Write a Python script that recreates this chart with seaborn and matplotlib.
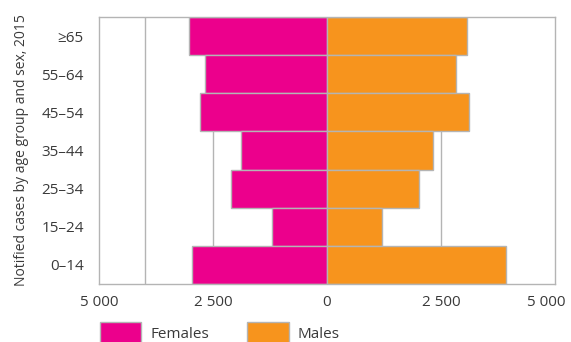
import pandas as pd
import matplotlib.pyplot as plt
import seaborn as sns
from matplotlib.patches import Patch
from matplotlib.transforms import ScaledTranslation

# Notified cases by age group and sex, 2015
age_groups = ['≥65', '55–64', '45–54', '35–44', '25–34', '15–24', '0–14']
females = [3025, 2675, 2790, 1890, 2100, 1200, 2950]
males = [3070, 2820, 3120, 2330, 2015, 1210, 3935]
x_ticks = [-5000, -2500, 0, 2500, 5000]
x_tick_labels = ['5 000', '2 500', '0', '2 500', '5 000']

MAGENTA = '#EC008C'
ORANGE = '#F7941D'
EDGE = '#B4B4B4'
TEXT = '#3a3a3a'


def main():
    sns.set_style('white')
    plt.rcParams['font.family'] = ['Open Sans', 'DejaVu Sans']

    df = pd.DataFrame({'age': age_groups,
                       'females': [-v for v in females],
                       'males': males})

    fig = plt.figure(figsize=(5.71, 3.42), dpi=100)
    ax = fig.add_axes([0.1734, 0.1705, 0.7986, 0.7789])

    # odd reference lines that sit behind the bars in the original
    for gx in [-4000, -2500, 2500]:
        ax.axvline(gx, color=EDGE, lw=1.0, zorder=0)

    sns.barplot(data=df, x='females', y='age', order=age_groups, orient='h',
                color=MAGENTA, saturation=1, width=1.0,
                edgecolor=EDGE, linewidth=1.0, ax=ax, zorder=2)
    sns.barplot(data=df, x='males', y='age', order=age_groups, orient='h',
                color=ORANGE, saturation=1, width=1.0,
                edgecolor=EDGE, linewidth=1.0, ax=ax, zorder=2)

    ax.set_xlim(-5000, 5000)
    ax.set_ylim(len(age_groups) - 0.5, -0.5)
    ax.set_xticks(x_ticks)
    ax.set_xticklabels(x_tick_labels)
    ax.tick_params(axis='both', length=0, labelsize=11, labelcolor=TEXT)
    ax.tick_params(axis='x', pad=8)
    ax.tick_params(axis='y', pad=11)
    # last tick label is pulled in so it stays on the canvas
    last = ax.get_xticklabels()[-1]
    last.set_transform(last.get_transform()
                       + ScaledTranslation(-9 / 100, 0, fig.dpi_scale_trans))
    ax.set_xlabel('')
    ax.set_ylabel('Notified cases by age group and sex, 2015',
                  fontsize=10, color=TEXT, labelpad=9)
    for s in ax.spines.values():
        s.set_color(EDGE)
        s.set_linewidth(1.0)

    handles = [Patch(facecolor=MAGENTA, edgecolor=EDGE, label='Females'),
               Patch(facecolor=ORANGE, edgecolor=EDGE, label='Males')]
    fig.legend(handles=handles, loc='upper left',
               bbox_to_anchor=(0.175, 0.0585), ncol=2, frameon=False,
               handlelength=2.7, handleheight=1.8, handletextpad=0.6,
               columnspacing=2.5, borderpad=0, borderaxespad=0,
               fontsize=11, labelcolor=TEXT)

    fig.savefig('out.png', dpi=100)
    plt.close(fig)


if __name__ == '__main__':
    main()
